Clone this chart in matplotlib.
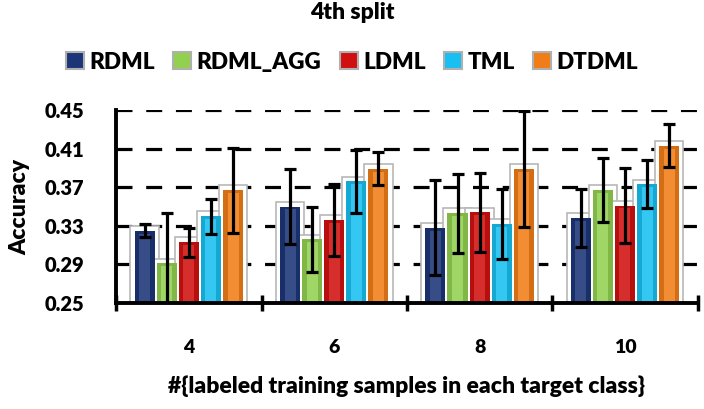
import numpy as np
import matplotlib
matplotlib.use("Agg")
import matplotlib.pyplot as plt
from matplotlib.patches import Rectangle

plt.rcParams['font.family'] = ['Lato', 'DejaVu Sans']
plt.rcParams['font.weight'] = 'heavy'

groups = ['4', '6', '8', '10']
methods = ['RDML', 'RDML_AGG', 'LDML', 'TML', 'DTDML']
colors = ['#1c3577', '#92d050', '#d01010', '#18bff0', '#f07d18']

acc = {
    'RDML':     [0.325, 0.350, 0.328, 0.338],
    'RDML_AGG': [0.291, 0.316, 0.343, 0.367],
    'LDML':     [0.313, 0.336, 0.344, 0.351],
    'TML':      [0.340, 0.376, 0.332, 0.373],
    'DTDML':    [0.367, 0.389, 0.389, 0.413],
}
err = {
    'RDML':     [0.007, 0.039, 0.049, 0.030],
    'RDML_AGG': [0.052, 0.034, 0.041, 0.033],
    'LDML':     [0.015, 0.037, 0.041, 0.039],
    'TML':      [0.018, 0.033, 0.036, 0.025],
    'DTDML':    [0.044, 0.017, 0.060, 0.022],
}
yticks = [0.25, 0.29, 0.33, 0.37, 0.41, 0.45]


def lighten(c, f):
    r = np.array(matplotlib.colors.to_rgb(c))
    return tuple(r + (1 - r) * f)


def darken(c, f):
    r = np.array(matplotlib.colors.to_rgb(c))
    return tuple(r * (1 - f))


fig = plt.figure(figsize=(7.04, 4.09), dpi=100)
ax = fig.add_axes([0.165, 0.259, 0.826, 0.472])

x = np.arange(len(groups))
pitch = 0.152
bw = 0.138
offsets = (np.arange(len(methods)) - 2) * pitch

# white shadow frames behind the bars
for i, m in enumerate(methods):
    for j in range(len(groups)):
        xc = x[j] + offsets[i]
        ax.add_patch(Rectangle((xc - 0.098, 0.25), 0.196, acc[m][j] - 0.25 + 0.005,
                               facecolor='white', edgecolor='#b8b8b8', lw=1.2, zorder=2))

# coloured bars with a simple bevel look
for i, m in enumerate(methods):
    c = colors[i]
    ax.bar(x + offsets[i], np.array(acc[m]) - 0.25, bw, bottom=0.25,
           color=darken(c, 0.12), zorder=3, label=m)
    ax.bar(x + offsets[i], np.array(acc[m]) - 0.25 - 0.003, bw * 0.55, bottom=0.25,
           color=lighten(c, 0.12), zorder=3.1)
    ax.errorbar(x + offsets[i], acc[m], yerr=err[m], fmt='none', ecolor='black',
                elinewidth=2.3, capsize=4.5, capthick=2.3, zorder=5)

ax.set_xlim(-0.5, 3.5)
ax.set_ylim(0.25, 0.45)
ax.set_yticks(yticks)
ax.set_yticklabels(['%.2f' % v for v in yticks], fontsize=14.5, fontweight='heavy')
ax.set_xticks(x)
ax.set_xticklabels(groups, fontsize=14, fontweight='heavy')
ax.set_xticks(np.arange(-0.5, 4, 1.0), minor=True)
ax.tick_params(axis='x', which='major', length=0, pad=26)
ax.tick_params(axis='x', which='minor', length=12, width=2.5, direction='inout')
ax.tick_params(axis='y', length=0, pad=23)

for yv in yticks[1:]:
    ax.axhline(yv, color='black', lw=2.3, linestyle=(0, (5, 4.3)), zorder=1)

for s in ['top', 'right']:
    ax.spines[s].set_visible(False)
ax.spines['left'].set_linewidth(2.8)
ax.spines['bottom'].set_linewidth(2.8)
ax.spines['left'].set_zorder(6)
ax.spines['bottom'].set_zorder(6)

ax.set_ylabel('Accuracy', fontsize=16.5, fontweight='heavy', labelpad=10)
ax.set_xlabel('#{labeled training samples in each target class}', fontsize=16.5,
              fontweight='heavy', labelpad=14)

fig.suptitle('4th split', fontsize=16.5, fontweight='heavy', y=0.995)

handles = [Rectangle((0, 0), 1, 1, facecolor=c, edgecolor='#b0b0b0', lw=1.5) for c in colors]
fig.legend(handles, methods, loc='center', bbox_to_anchor=(0.5, 0.848), ncol=5,
           frameon=False, fontsize=16.2, handlelength=0.8, handleheight=0.8,
           handletextpad=0.25, columnspacing=0.8)

fig.savefig('out.png', dpi=100)
